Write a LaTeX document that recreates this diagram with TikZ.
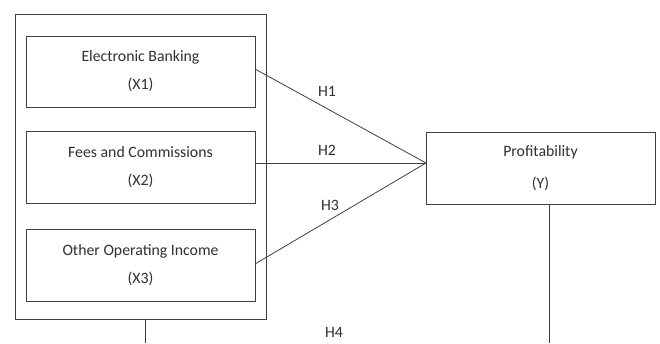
\documentclass[tikz,border=0pt]{standalone}
\usepackage{fontspec}
\setmainfont{Carlito}
\definecolor{ln}{HTML}{404040}
\definecolor{tx}{HTML}{303030}
\begin{document}
\begin{tikzpicture}[x=1pt,y=-1pt,
  box/.style={draw=ln,line width=0.9pt,rectangle,inner sep=0pt,align=center,text=tx,
    font=\fontsize{15.8}{28}\selectfont},
  conn/.style={draw=ln,line width=0.8pt},
  lbl/.style={text=tx,font=\fontsize{15.8}{18}\selectfont,inner sep=0pt}]
\useasboundingbox (0,0) rectangle (660,343);
\fill[white] (0,0) rectangle (660,343);
\node[box,minimum width=251pt,minimum height=305pt] (outer) at (140.5,166.5) {};
\node[box,minimum width=229pt,minimum height=71pt] (b1) at (140.5,71.5) {Electronic Banking\\(X1)};
\node[box,minimum width=229pt,minimum height=72pt] (b2) at (140.5,167) {Fees and Commissions\\(X2)};
\node[box,minimum width=229pt,minimum height=72pt] (b3) at (140.5,265) {Other Operating Income\\(X3)};
\node[box,minimum width=229pt,minimum height=72pt,font=\fontsize{15.8}{32}\selectfont] (p) at (540.5,168) {Profitability\\(Y)};
\coordinate (hub) at (426,163);
\coordinate (e1) at (255,69);
\coordinate (e2) at (255,163);
\coordinate (e3) at (255,264);
\draw[conn] (e1) -- (hub);
\draw[conn] (e2) -- (hub);
\draw[conn] (e3) -- (hub);
\coordinate (ob) at (145,319);
\coordinate (obend) at (145,343);
\coordinate (pb) at (549,204);
\coordinate (pbend) at (549,343);
\draw[conn] (ob) -- (obend);
\draw[conn] (pb) -- (pbend);
\node[lbl] (h1) at (327,91) {H1};
\node[lbl] (h2) at (327,150) {H2};
\node[lbl] (h3) at (330,205) {H3};
\node[lbl] (h4) at (334,332) {H4};
\end{tikzpicture}
\end{document}
